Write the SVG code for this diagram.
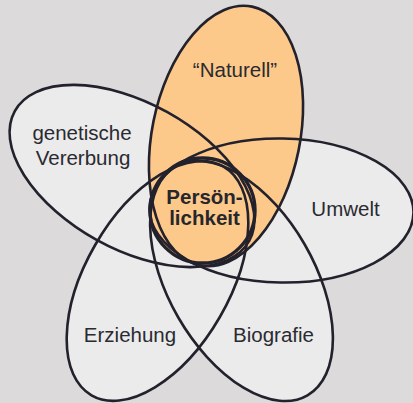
<svg xmlns="http://www.w3.org/2000/svg" width="413" height="403" viewBox="0 0 413 403">
<style>
.f{fill:#ebebeb;stroke:none}
.o{fill:#fdc98b;stroke:none}
.s{fill:none;stroke:#23222c;stroke-width:2.6}
.c{fill:none;stroke:#23222c;stroke-width:3.4}
text{font-family:"Liberation Sans",Arial,Helvetica,sans-serif;font-size:20.5px;fill:#2a2a30;text-anchor:middle}
.b{font-weight:bold;font-size:20.5px;fill:#26262c}
</style>
<rect width="413" height="403" fill="#dcdadb"/>
<g id="fills">
<ellipse class="f" rx="132" ry="72" transform="translate(281.5 210.5) rotate(1)"/>
<ellipse class="f" rx="134" ry="73" transform="translate(132 176) rotate(29)"/>
<ellipse class="f" rx="132" ry="73" transform="translate(241.5 281) rotate(60)"/>
<ellipse class="f" rx="132" ry="72" transform="translate(157.5 281) rotate(120)"/>
<ellipse class="o" rx="74" ry="132" transform="translate(226 136) rotate(11.4)"/>
<circle class="o" cx="202.5" cy="210.5" r="52.5"/>
</g>
<g id="connectors">
<ellipse class="s" rx="132" ry="72" transform="translate(281.5 210.5) rotate(1)"/>
<ellipse class="s" rx="134" ry="73" transform="translate(132 176) rotate(29)"/>
<ellipse class="s" rx="132" ry="73" transform="translate(241.5 281) rotate(60)"/>
<ellipse class="s" rx="132" ry="72" transform="translate(157.5 281) rotate(120)"/>
<ellipse class="s" rx="74" ry="132" transform="translate(226 136) rotate(11.4)"/>
</g>
<g id="naturell"><text x="235" y="77">“Naturell”</text></g>
<g id="genetik"><text x="82" y="140">genetische</text><text x="83" y="165">Vererbung</text></g>
<g id="umwelt"><text x="345.5" y="216">Umwelt</text></g>
<g id="erziehung"><text x="130" y="342">Erziehung</text></g>
<g id="biografie"><text x="273.5" y="342">Biografie</text></g>
<g id="persoenlichkeit"><circle class="c" cx="202.5" cy="210.5" r="52.5"/><text class="b" x="204.5" y="204">Persön-</text><text class="b" x="204.5" y="225">lichkeit</text></g>
</svg>
